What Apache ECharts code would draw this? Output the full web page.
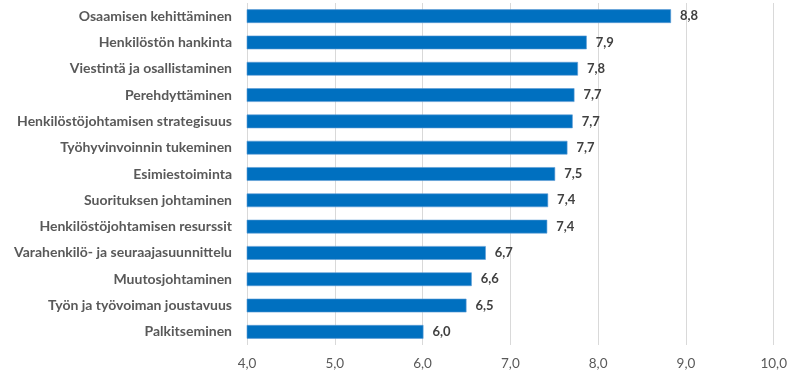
<!DOCTYPE html>
<html>
<head>
<meta charset="utf-8">
<script src="https://cdn.jsdelivr.net/npm/echarts@6/dist/echarts.min.js"></script>
<style>
html,body{margin:0;padding:0;background:#fff;}
#chart{width:790px;height:376px;}
</style>
</head>
<body>
<div id="chart"></div>
<script>
const categories = [
  "Osaamisen kehittäminen",
  "Henkilöstön hankinta",
  "Viestintä ja osallistaminen",
  "Perehdyttäminen",
  "Henkilöstöjohtamisen strategisuus",
  "Työhyvinvoinnin tukeminen",
  "Esimiestoiminta",
  "Suorituksen johtaminen",
  "Henkilöstöjohtamisen resurssit",
  "Varahenkilö- ja seuraajasuunnittelu",
  "Muutosjohtaminen",
  "Työn ja työvoiman joustavuus",
  "Palkitseminen"
];
const values = [8.83, 7.87, 7.77, 7.73, 7.71, 7.65, 7.51, 7.43, 7.42, 6.72, 6.56, 6.50, 6.01];
const axisMin = 4, axisMax = 10, axisInterval = 1;

const fmt = v => Number(v).toFixed(1).replace('.', ',');
const chart = echarts.init(document.getElementById('chart'), null, {renderer:'canvas'});
chart.setOption({
  animation: false,
  textStyle: { fontFamily: 'Lato' },
  grid: { left: 247, right: 15, top: 3, bottom: 31, containLabel: false },
  xAxis: {
    type: 'value', min: axisMin, max: axisMax, interval: axisInterval,
    axisLine: { show: false }, axisTick: { show: false },
    splitLine: { show: true, lineStyle: { color: '#D9D9D9', width: 1 } },
    axisLabel: { formatter: fmt, color: '#595959', fontSize: 13.5, margin: 12, fontFamily: 'Lato' }
  },
  yAxis: {
    type: 'category', data: categories, inverse: true,
    axisLine: { show: false }, axisTick: { show: false },
    axisLabel: { color: '#595959', fontSize: 14, fontWeight: 'bold', margin: 15, fontFamily: 'Lato' }
  },
  series: [{
    type: 'bar', data: values, barWidth: '52%',
    itemStyle: { color: '#0070C0', borderColor: '#5B9BD5', borderWidth: 0.6 },
    label: { show: true, position: 'right', distance: 9, formatter: p => fmt(p.value),
      color: '#404040', fontWeight: 'bold', fontSize: 13, fontFamily: 'Lato' }
  }]
});
</script>
</body>
</html>
